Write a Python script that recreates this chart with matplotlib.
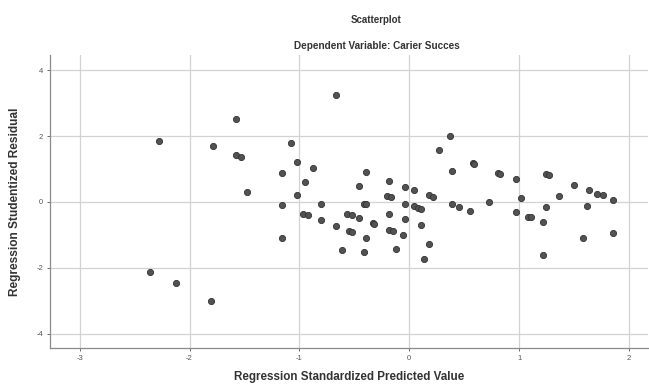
import matplotlib.pyplot as plt

# standardized predicted value (x) and studentized residual (y)
pred = [-0.67, -1.58, -2.28, -1.79, -1.08, -1.58, -1.53, -1.02, -0.88, -1.16,
        -0.945, -1.48, -1.02, -1.16, -0.80, -0.97, -0.92, -0.80, -0.67, -0.57,
        -0.52, -0.46, -0.55, -0.52, -0.61, -1.16, -2.36, -2.12, -1.80, -0.46,
        -0.39, -0.18, -0.04, 0.04, -0.20, -0.17, -0.41, -0.39, -0.04, 0.04,
        0.08, 0.11, 0.18, 0.22, 0.37, 0.27, 0.39, 0.58, 0.59, 0.39,
        0.45, 0.55, 0.73, 0.81, 0.83, 0.97, 1.02, 0.97, 1.08, 1.11,
        1.24, 1.27, 1.24, 1.22, 1.22, 1.36, 1.50, 1.64, 1.71, 1.76,
        1.85, 1.62, 1.58, 1.85, -0.33, -0.32, -0.39, -0.41, -0.18, -0.18,
        -0.15, -0.04, -0.06, 0.11, 0.18, -0.12, 0.13]
resid = [3.25, 2.52, 1.85, 1.71, 1.80, 1.42, 1.36, 1.21, 1.04, 0.89,
         0.62, 0.31, 0.21, -0.10, -0.06, -0.35, -0.40, -0.55, -0.72, -0.35,
         -0.40, -0.50, -0.88, -0.90, -1.46, -1.10, -2.13, -2.45, -3.00, 0.48,
         0.91, 0.64, 0.46, 0.37, 0.17, 0.15, -0.07, -0.07, -0.05, -0.13,
         -0.17, -0.21, 0.20, 0.15, 1.99, 1.59, 0.93, 1.18, 1.14, -0.07,
         -0.15, -0.27, 0.00, 0.89, 0.86, 0.70, 0.13, -0.30, -0.45, -0.47,
         0.84, 0.81, -0.15, -0.62, -1.62, 0.19, 0.53, 0.35, 0.25, 0.20,
         0.07, -0.12, -1.08, -0.94, -0.64, -0.66, -1.08, -1.53, -0.35, -0.84,
         -0.88, -0.53, -0.99, -0.70, -1.28, -1.43, -1.73]

xticks = [-3, -2, -1, 0, 1, 2]
yticks = [-4, -2, 0, 2, 4]

plt.rcParams['font.family'] = ['Liberation Sans', 'DejaVu Sans']
plt.rcParams['axes.unicode_minus'] = False

fig = plt.figure(figsize=(6.49, 3.86), dpi=100)
ax = fig.add_axes([0.077, 0.099, 0.921, 0.758])

ax.scatter(pred, resid, s=20, c='#525252', edgecolors='#333333',
           linewidths=0.6, zorder=3)

ax.set_xlim(-3.27, 2.17)
ax.set_ylim(-4.42, 4.45)
ax.set_xticks(xticks)
ax.set_yticks(yticks)
ax.grid(True, color='#d2d2d2', linewidth=0.9)
ax.set_axisbelow(True)

for s in ['top', 'right']:
    ax.spines[s].set_visible(False)
for s in ['left', 'bottom']:
    ax.spines[s].set_color('#8a8a8a')
    ax.spines[s].set_linewidth(0.9)
ax.tick_params(labelsize=5.5, colors='#555555', length=2, width=0.6, pad=3)

ax.set_xlabel('Regression Standardized Predicted Value', fontsize=8.4,
              fontweight='bold', color='#333333', labelpad=7)
ax.set_ylabel('Regression Studentized Residual', fontsize=8.6,
              fontweight='bold', color='#333333', labelpad=11)

fig.text(0.58, 0.94, 'Scatterplot', ha='center', fontsize=7,
         fontweight='bold', color='#333333')
fig.text(0.58, 0.872, 'Dependent Variable: Carier Succes', ha='center',
         fontsize=7.2, fontweight='bold', color='#333333')

fig.savefig('out.png', dpi=100)
